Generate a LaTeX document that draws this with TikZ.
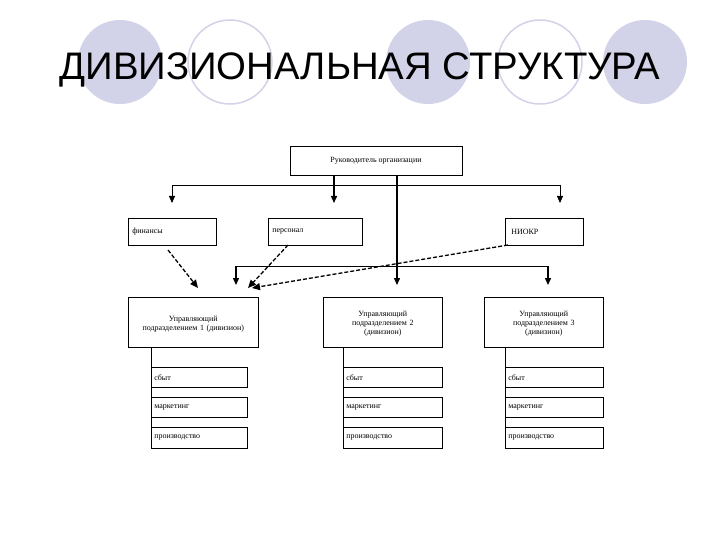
\documentclass[tikz,border=0pt]{standalone}
\usepackage{fontspec}
\setmainfont{Liberation Serif}
\newfontfamily\titlefont{Liberation Sans}
\usetikzlibrary{arrows.meta}
\definecolor{lav}{RGB}{210,210,232}
\begin{document}
\begin{tikzpicture}[x=1bp,y=-1bp,
  bx/.style={draw,line width=0.6bp,inner sep=0,font=\fontsize{8}{9}\selectfont},
  ln/.style={line width=0.8bp},
  ar/.style={line width=1.4bp,-{Triangle[length=7bp,width=6bp]}},
  ta/.style={line width=0.8bp,-{Triangle[length=7bp,width=6bp]}},
  da/.style={line width=1.3bp,dash pattern=on 4bp off 2bp,-{Triangle[length=8bp,width=7bp]}}]
\useasboundingbox (0,0) rectangle (720,540);
\fill[white] (0,0) rectangle (720,540);
\foreach \cx in {120,428,645} \fill[lav] (\cx,62) circle (42);
\foreach \cx in {230,540} \draw[lav,line width=1.5bp] (\cx,62) circle (42);
\node[font=\titlefont\fontsize{38.5}{42}\selectfont] (title) at (360,70) {ДИВИЗИОНАЛЬНАЯ СТРУКТУРА};
% boxes
\node[bx,minimum width=172bp,minimum height=29bp] (top) at (376,160.5) {Руководитель организации};
\node[bx,minimum width=88bp,minimum height=27bp,anchor=north west,text width=84bp,align=left] (fin) at (128,218) {\hspace*{2bp}финансы\\[6bp]};
\node[bx,minimum width=94bp,minimum height=27bp,anchor=north west,text width=90bp,align=left] (per) at (268,218) {\hspace*{2bp}персонал\\[6bp]};
\node[bx,minimum width=78bp,minimum height=27bp,anchor=north west,text width=74bp,align=left] (nio) at (505,218) {\hspace*{4bp}НИОКР\\[6bp]};
\node[bx,minimum width=130bp,minimum height=50bp,anchor=north west,text width=130bp,align=center] (d1) at (128,297) {\rule{0pt}{9bp}Управляющий\\подразделением 1 (дивизион)\\[17bp]};
\node[bx,minimum width=119bp,minimum height=50bp,anchor=north west,text width=119bp,align=center] (d2) at (323,297) {\rule{0pt}{9bp}Управляющий\\подразделением 2\\(дивизион)\\[8bp]};
\node[bx,minimum width=119bp,minimum height=50bp,anchor=north west,text width=119bp,align=center] (d3) at (484,297) {\rule{0pt}{9bp}Управляющий\\подразделением 3\\(дивизион)\\[8bp]};
\foreach \d/\x/\w in {1/151/96,2/343/99,3/505/98}{
  \node[bx,minimum width=\w bp,minimum height=20bp,anchor=north west,text width=\w bp-6bp,align=left] (s\d) at (\x,367) {сбыт};
  \node[bx,minimum width=\w bp,minimum height=20bp,anchor=north west,text width=\w bp-6bp,align=left] (m\d) at (\x,397) {маркетинг};
  \node[bx,minimum width=\w bp,minimum height=21bp,anchor=north west,text width=\w bp-6bp,align=left] (p\d) at (\x,427) {производство};
  \draw[ln] (d\d.south west -| s\d.west) -- (p\d.south west);
}
% connectors
\coordinate (h1l) at (172,185); \coordinate (h1r) at (560,185);
\draw[ln] (h1l) -- (h1r);
\draw[ta] (h1l) -- (172,203);
\draw[ar] (334,175) -- (334,203);
\draw[ta] (h1r) -- (560,203);
\draw[ar] (397,175) -- (397,285);
\coordinate (h2l) at (236,266); \coordinate (h2r) at (548,266);
\draw[ln] (h2l) -- (h2r);
\draw[ar] (h2l) -- (236,285);
\draw[ar] (h2r) -- (548,285);
\draw[da] (168,250) -- (198,288);
\draw[da] (288,245) -- (248,288);
\draw[da] (508,245) -- (252,288);
\end{tikzpicture}
\end{document}
